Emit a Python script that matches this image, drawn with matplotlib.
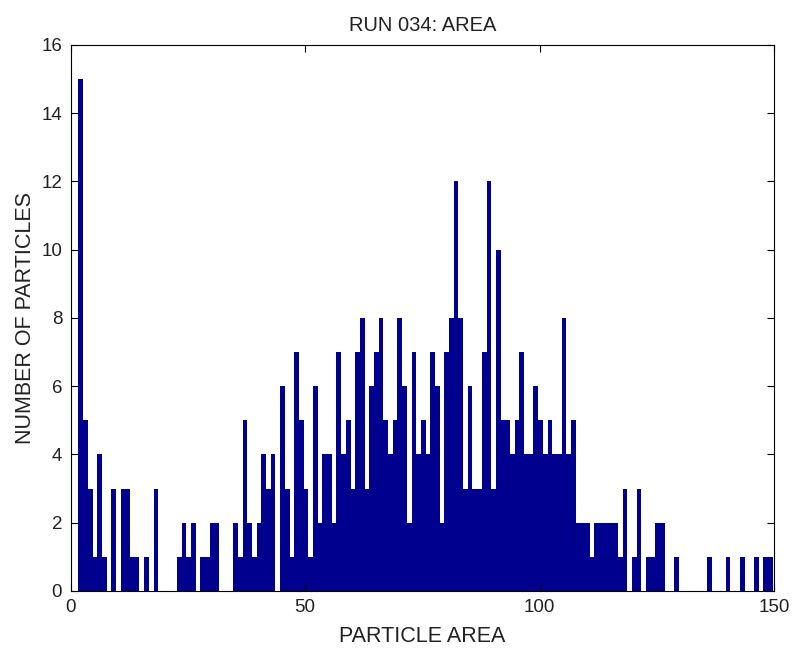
import matplotlib
matplotlib.use("Agg")
import matplotlib.pyplot as plt
import numpy as np

plt.rcParams['font.family'] = ['Liberation Sans', 'DejaVu Sans']

# particle area (pixels), one bin per integer area from 2 to 149
area = np.arange(2, 150)
counts = [15, 5, 3, 1, 4, 1, 0, 3, 0, 3, 3, 1, 1, 0, 1, 0, 3, 0, 0, 0,
          0, 1, 2, 1, 2, 0, 1, 1, 2, 2, 0, 0, 0, 2, 1, 5, 2, 1, 2, 4,
          3, 4, 0, 6, 3, 1, 7, 5,
          3, 1, 6, 2, 4, 4, 2, 7, 4, 5, 3, 7, 8, 3, 6, 7, 8, 5, 4, 5,
          8, 6, 2, 7, 4,
          5, 4, 7, 6, 2, 7, 8, 12, 8, 3, 6, 3, 3, 7, 12, 3, 10, 5, 5, 4,
          5, 7, 4, 4, 6,
          5, 4, 5, 4, 4, 8, 4, 5, 2, 2, 2, 1, 2, 2, 2, 2, 2, 1, 3, 0,
          1, 3, 0, 1, 1,
          2, 2, 0, 0, 1, 0, 0, 0, 0, 0, 0, 1, 0, 0, 0, 1, 0, 0, 1, 0,
          0, 1, 0, 1, 1]

xticks = [0, 50, 100, 150]
yticks = list(range(0, 17, 2))

fig = plt.figure(figsize=(7.95, 6.5), dpi=100)
ax = fig.add_axes([0.0887, 0.0908, 0.885, 0.840])

ax.bar(area + 0.2, counts, width=1.0, align='center', color='#00008f', linewidth=0)

ax.set_xlim(0, 150)
ax.set_ylim(0, 16)
ax.set_xticks(xticks)
ax.set_yticks(yticks)
ax.tick_params(direction='in', top=True, right=True, length=5, width=0.8,
               labelsize=13.5, labelcolor='#222222', pad=6)
for s in ax.spines.values():
    s.set_linewidth(0.8)

ax.set_title('RUN 034: AREA', fontsize=14.5, pad=10, color='#222222')
ax.set_xlabel('PARTICLE AREA', fontsize=15.5, labelpad=7, color='#222222')
ax.set_ylabel('NUMBER OF PARTICLES', fontsize=15.5, labelpad=4, color='#222222')

fig.savefig('out.png', dpi=100)
